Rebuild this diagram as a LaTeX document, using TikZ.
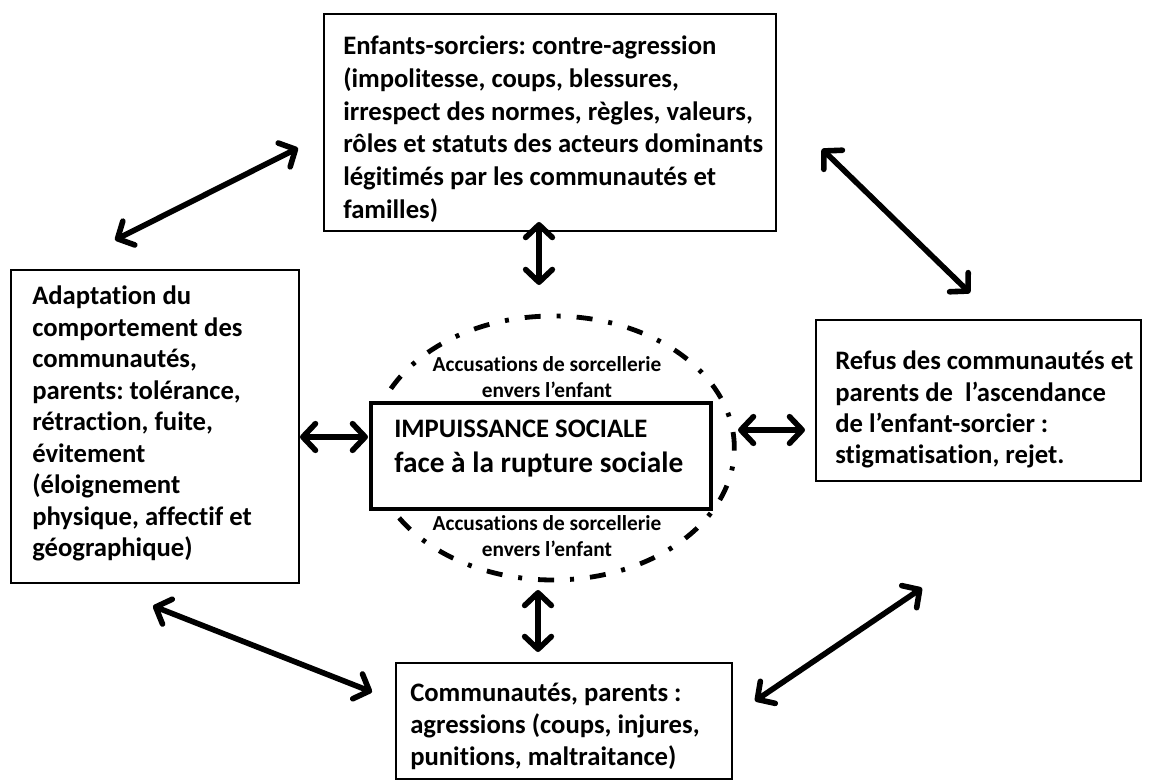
\documentclass[tikz,border=0pt]{standalone}
\usepackage{fontspec}
\setmainfont{Carlito}[Ligatures=NoCommon]
\usetikzlibrary{arrows.meta,shapes.geometric}
\frenchspacing
\begin{document}
\begin{tikzpicture}[x=0.75pt,y=-0.75pt,
  box/.style={draw, line width=1.6pt, rectangle, inner sep=0pt, anchor=north west},
  txt/.style={anchor=north west, inner sep=0pt, align=left, font=\bfseries\fontsize{20}{24.5}\selectfont},
  acc/.style={anchor=north, inner sep=0pt, align=center, font=\bfseries\fontsize{16}{19.5}\selectfont},
  dbl/.style={line width=4.2pt, line cap=round,
    {Straight Barb[length=9.5pt,width=20pt,line cap=round,line join=round]}-{Straight Barb[length=9.5pt,width=20pt,line cap=round,line join=round]}},
  dashdotline/.style={line width=3.6pt, dash pattern=on 12pt off 12pt on 3pt off 12pt}
]
\useasboundingbox[fill=white] (0,0) rectangle (1150,780);

% boxes
\node[box, minimum width=339pt, minimum height=162.75pt] (topbox) at (323,13) {};
\node[box, minimum width=216pt, minimum height=234.75pt] (leftbox) at (10,269) {};
\node[box, minimum width=243.75pt, minimum height=120.75pt] (rightbox) at (815,319) {};
\node[box, minimum width=252pt, minimum height=87pt] (botbox) at (395,662) {};

% ellipse
\node[draw, dashdotline, ellipse, inner sep=0pt, minimum width=272pt, minimum height=198pt] (ell) at (553,448) {};

% center box
\node[box, line width=3.2pt, minimum width=255pt, minimum height=79.5pt, fill=white] (center) at (369,401) {};

% texts
\node[txt] (toptext) at (343,36) {Enfants-sorciers: contre-agression\\(impolitesse, coups, blessures,\\irrespect des normes, règles, valeurs,\\rôles et statuts des acteurs dominants\\légitimés par les communautés et\\familles)};
\node[txt, font=\bfseries\fontsize{20}{23.6}\selectfont] (lefttext) at (32,286) {Adaptation du\\comportement des\\communautés,\\parents: tolérance,\\rétraction, fuite,\\évitement\\(éloignement\\physique, affectif et\\géographique)};
\node[txt, font=\bfseries\fontsize{20}{23.3}\selectfont] (righttext) at (835,351) {Refus des communautés et\\parents de~ l’ascendance\\de l’enfant-sorcier :\\stigmatisation, rejet.};
\node[txt, font=\bfseries\fontsize{20}{24}\selectfont] (bottext) at (410,683) {Communautés, parents :\\agressions (coups, injures,\\punitions, maltraitance)};
\node[txt, font=\bfseries\fontsize{20}{26.25}\selectfont] (centertext) at (394,420) {IMPUISSANCE SOCIALE\\{\fontsize{22}{26.25}\selectfont face à la rupture sociale}};
\node[acc] (acctop) at (547,356) {Accusations de sorcellerie\\envers l’enfant};
\node[acc] (accbot) at (547,515) {Accusations de sorcellerie\\envers l’enfant};

% arrow end points
\coordinate (tlA) at (115,240); \coordinate (tlB) at (298,148);
\coordinate (trA) at (822,149); \coordinate (trB) at (970,293);
\coordinate (blA) at (153,606); \coordinate (blB) at (372,692);
\coordinate (brA) at (755,701); \coordinate (brB) at (922,588);
\coordinate (tvA) at (539,222); \coordinate (tvB) at (539,285);
\coordinate (bvA) at (538,590); \coordinate (bvB) at (538,652);
\coordinate (lhA) at (300,437); \coordinate (lhB) at (368,437);
\coordinate (rhA) at (738,430); \coordinate (rhB) at (805,430);

\draw[dbl] (tlA) -- (tlB);
\draw[dbl] (trA) -- (trB);
\draw[dbl] (blA) -- (blB);
\draw[dbl] (brA) -- (brB);
\draw[dbl] (tvA) -- (tvB);
\draw[dbl] (bvA) -- (bvB);
\draw[dbl] (lhA) -- (lhB);
\draw[dbl] (rhA) -- (rhB);
\end{tikzpicture}
\end{document}
